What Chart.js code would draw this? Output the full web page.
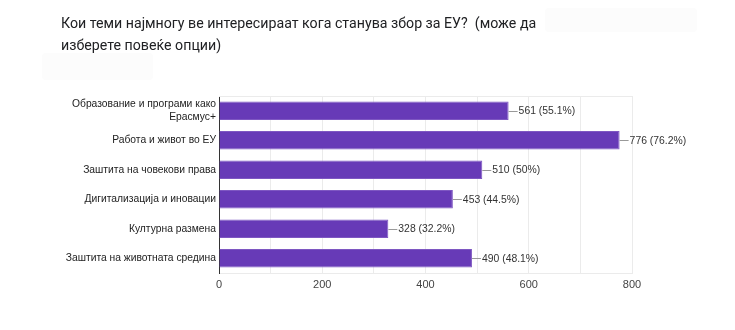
<!DOCTYPE html>
<html>
<head>
<meta charset="utf-8">
<script src="https://cdn.jsdelivr.net/npm/chart.js@4"></script>
<style>
html,body{margin:0;padding:0;background:#fff;}
#wrap{position:relative;width:735px;height:330px;overflow:hidden;background:#fff;}
#title{position:absolute;left:61px;top:12px;font-family:Roboto,"Noto Sans",sans-serif;font-size:14.2px;color:#202124;line-height:22px;white-space:nowrap;}
.ghost{position:absolute;background:#fcfcfc;border-radius:4px;}
canvas{position:absolute;left:0;top:0;}
</style>
</head>
<body>
<div id="wrap">
  <div class="ghost" style="left:545px;top:8px;width:152px;height:24px;"></div>
  <div class="ghost" style="left:42px;top:53px;width:111px;height:27px;"></div>
  <canvas id="c" width="735" height="330"></canvas>
  <div id="title">Кои теми најмногу ве интересираат кога станува збор за ЕУ?&nbsp; (може да<br>изберете повеќе опции)</div>
</div>
<script>
const categories = [
  ["Образование и програми како", "Ерасмус+"],
  "Работа и живот во ЕУ",
  "Заштита на човекови права",
  "Дигитализација и иновации",
  "Културна размена",
  "Заштита на животната средина"
];
const counts = [561, 776, 510, 453, 328, 490];
const percents = ["55.1%", "76.2%", "50%", "44.5%", "32.2%", "48.1%"];
const xTickLabels = ["0", "200", "400", "600", "800"];

const valueLabels = {
  id: 'valueLabels',
  afterDatasetsDraw(chart) {
    const ctx = chart.ctx;
    const meta = chart.getDatasetMeta(0);
    ctx.save();
    ctx.font = '10.4px Arial, "Liberation Sans", sans-serif';
    ctx.textBaseline = 'middle';
    ctx.textAlign = 'left';
    meta.data.forEach((bar, i) => {
      const x = bar.x, y = bar.y;
      ctx.strokeStyle = '#999999';
      ctx.lineWidth = 1;
      ctx.beginPath();
      ctx.moveTo(x, Math.round(y) + 0.5);
      ctx.lineTo(x + 9, Math.round(y) + 0.5);
      ctx.stroke();
      ctx.fillStyle = '#333333';
      ctx.fillText(counts[i] + ' (' + percents[i] + ')', x + 10, y + 0.5);
    });
    ctx.restore();
  }
};

const frameLine = {
  id: 'frameLine',
  beforeDatasetsDraw(chart) {
    const a = chart.chartArea, ctx = chart.ctx;
    ctx.save();
    ctx.strokeStyle = '#ebebeb';
    ctx.lineWidth = 1;
    ctx.beginPath();
    ctx.moveTo(a.left, Math.round(a.top) + 0.5);
    ctx.lineTo(a.right, Math.round(a.top) + 0.5);
    ctx.stroke();
    ctx.restore();
  }
};

new Chart(document.getElementById('c'), {
  type: 'bar',
  data: {
    labels: categories,
    datasets: [{
      data: counts,
      backgroundColor: '#673ab7',
      borderColor: '#7e57c2',
      borderWidth: 1,
      categoryPercentage: 0.63,
      barPercentage: 1
    }]
  },
  options: {
    indexAxis: 'y',
    responsive: false,
    animation: false,
    devicePixelRatio: 1,
    layout: { padding: { left: 0, right: 103, top: 96, bottom: 35 } },
    plugins: { legend: { display: false }, tooltip: { enabled: false } },
    scales: {
      x: {
        min: 0, max: 800,
        afterFit(s) { s.height = 22; },
        ticks: {
          stepSize: 100,
          autoSkip: false,
          maxRotation: 0,
          padding: 5,
          color: '#444444',
          font: { family: 'Arial, "Liberation Sans", sans-serif', size: 11 },
          callback(v) { return v % 200 === 0 ? xTickLabels[v / 200] : ''; }
        },
        grid: { color: '#ebebeb', drawTicks: false },
        border: { display: true, color: '#ebebeb' }
      },
      y: {
        afterFit(s) { s.width = 219; },
        ticks: {
          autoSkip: false,
          padding: 3,
          color: '#222222',
          font: { family: 'Arial, "Liberation Sans", sans-serif', size: 10.3, lineHeight: 1.3 }
        },
        grid: { display: false, drawTicks: false },
        border: { display: true, color: '#333333', width: 1 }
      }
    }
  },
  plugins: [frameLine, valueLabels]
});
</script>
</body>
</html>
